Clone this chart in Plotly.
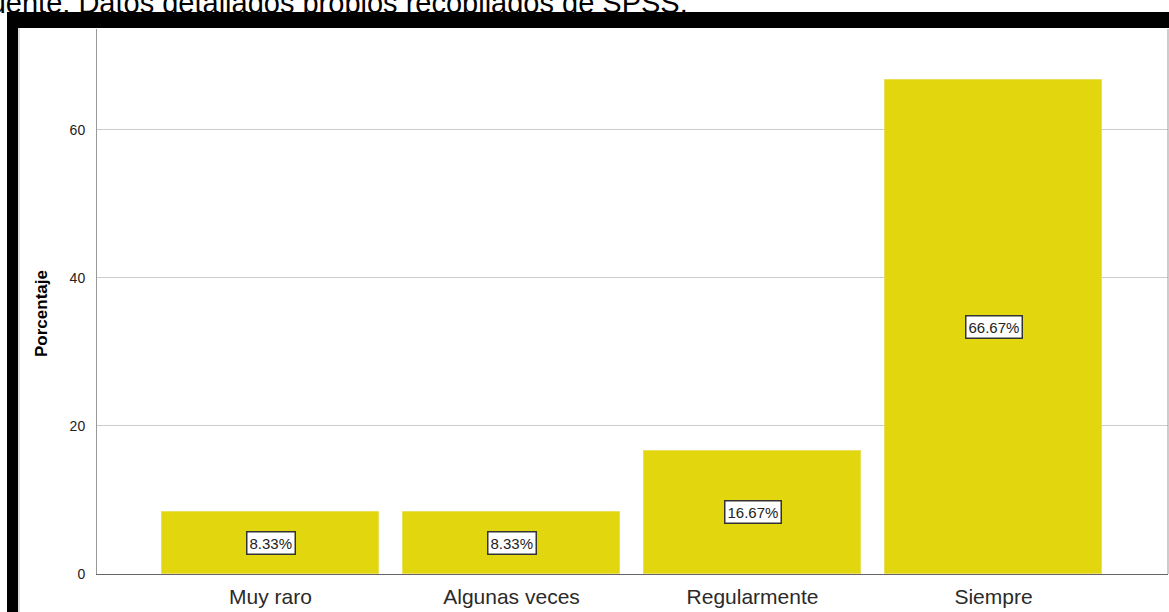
import plotly.graph_objects as go

categorias = ["Muy raro", "Algunas veces", "Regularmente", "Siempre"]
porcentajes = [8.33, 8.33, 16.67, 66.67]
y_ticks = [0, 20, 40, 60]
fuente = "Fuente: Datos detallados propios recopilados de SPSS."

FONT = "Liberation Sans, Arial"
W, H = 1169, 612
L, R, T, B = 97, 1, 29, 38
pw, ph = W - L - R, H - T - B


def px_x(px):
    return (px - L) / pw


def px_y(py):
    return (H - B - py) / ph


fig = go.Figure()
fig.add_trace(go.Bar(
    x=list(range(len(categorias))),
    y=porcentajes,
    width=0.9,
    marker=dict(color="#e2d70f", line=dict(color="#eadf5a", width=1)),
    hoverinfo="skip",
))

# value boxes at half height of each bar
for i, v in enumerate(porcentajes):
    fig.add_annotation(
        x=i, y=v / 2, xref="x", yref="y",
        text=f"{v:.2f}%", showarrow=False,
        font=dict(family=FONT, size=15, color="#222"),
        bgcolor="white", bordercolor="#333", borderwidth=1.5, borderpad=2,
    )

# black frame around the chart
fig.add_shape(type="rect", xref="paper", yref="paper",
              x0=px_x(7), x1=px_x(1170), y0=px_y(28), y1=px_y(12),
              fillcolor="black", line=dict(width=0), layer="above")
fig.add_shape(type="rect", xref="paper", yref="paper",
              x0=px_x(7), x1=px_x(18), y0=px_y(613), y1=px_y(12),
              fillcolor="black", line=dict(width=0), layer="above")
fig.add_shape(type="line", xref="paper", yref="paper",
              x0=px_x(19), x1=px_x(19), y0=px_y(613), y1=px_y(28),
              line=dict(color="#bbbbbb", width=1))
# right border of plot area
fig.add_shape(type="line", xref="paper", yref="paper",
              x0=1, x1=1, y0=0, y1=1,
              line=dict(color="#999999", width=1))

# source line above the frame
fig.add_annotation(
    x=px_x(690), y=px_y(11), xref="paper", yref="paper",
    xanchor="right", yanchor="bottom", yshift=-10,
    text=fuente, showarrow=False,
    font=dict(family=FONT, size=29, color="black"),
)

# y axis title
fig.add_annotation(
    x=px_x(41), y=px_y(314), xref="paper", yref="paper",
    xanchor="center", yanchor="middle", textangle=-90,
    text="<b>Porcentaje</b>", showarrow=False,
    font=dict(family=FONT, size=17, color="black"),
)

fig.update_layout(
    width=W, height=H,
    margin=dict(l=L, r=R, t=T, b=B, pad=0),
    paper_bgcolor="white", plot_bgcolor="white",
    showlegend=False,
    bargap=0,
    xaxis=dict(
        range=[-0.72, 3.724],
        tickmode="array", tickvals=list(range(len(categorias))), ticktext=categorias,
        tickfont=dict(family=FONT, size=21, color="#2a2a2a"),
        showgrid=False, showline=True, linecolor="#666666", linewidth=1,
        ticks="outside", ticklen=0, ticklabelstandoff=4, zeroline=False,
    ),
    yaxis=dict(
        range=[0, 73.6],
        tickmode="array", tickvals=y_ticks,
        tickfont=dict(family=FONT, size=14, color="#222"),
        showgrid=True, gridcolor="#cccccc", gridwidth=1,
        showline=True, linecolor="#999999", linewidth=1,
        ticks="outside", ticklen=0, ticklabelstandoff=8,
        zeroline=False,
    ),
)

fig.write_html("out.html")
